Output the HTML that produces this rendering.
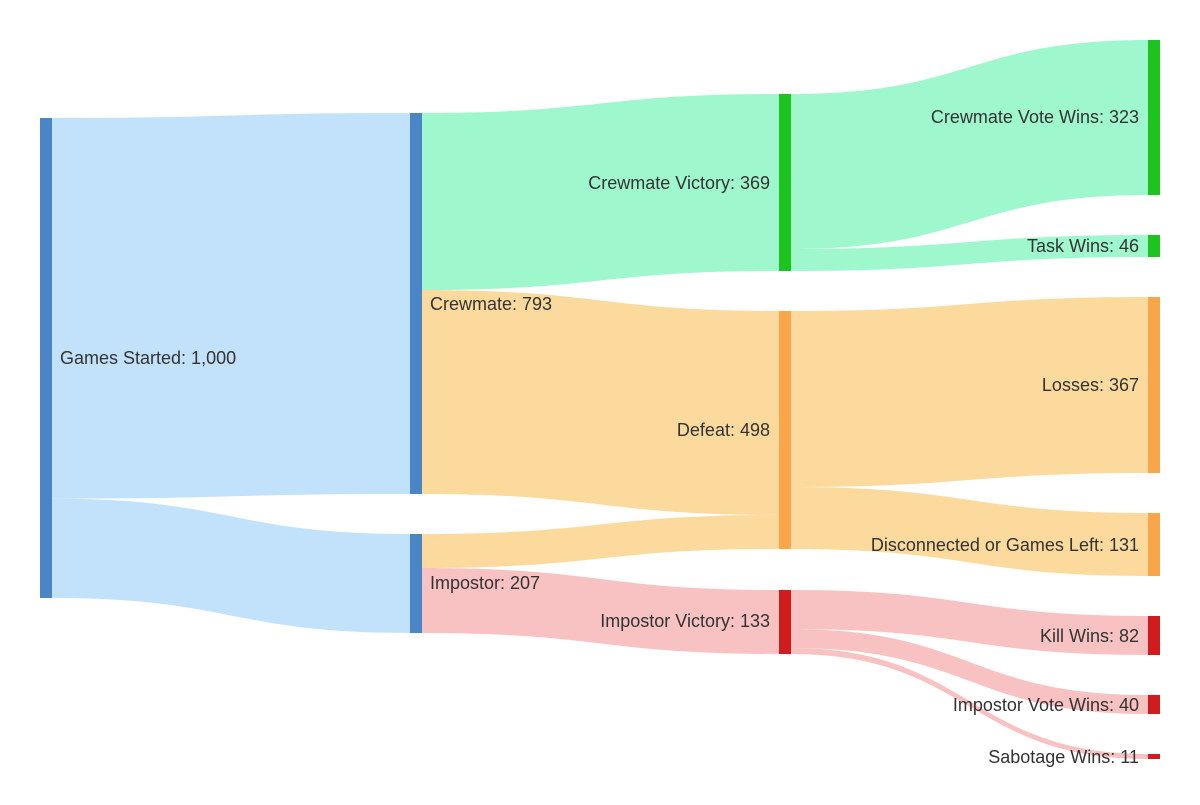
<!DOCTYPE html>
<html><head><style>body{margin:0;background:#fff}svg text{font-family:"Liberation Sans",sans-serif;font-size:18px;fill:#333;dominant-baseline:central}</style></head><body>
<svg width="1200" height="800" xmlns="http://www.w3.org/2000/svg">
<g id="links"></g>
<rect x="40" y="118" width="12" height="480" fill="#4a86c5"/>
<rect x="410" y="113" width="12" height="381" fill="#4a86c5"/>
<rect x="410" y="534" width="12" height="99" fill="#4a86c5"/>
<rect x="779" y="94" width="12" height="177" fill="#1ec41e"/>
<rect x="779" y="311" width="12" height="238" fill="#f9a64a"/>
<rect x="779" y="590" width="12" height="64" fill="#d01c1c"/>
<rect x="1148" y="40" width="12" height="155" fill="#1ec41e"/>
<rect x="1148" y="235" width="12" height="22" fill="#1ec41e"/>
<rect x="1148" y="297" width="12" height="176" fill="#f9a64a"/>
<rect x="1148" y="513" width="12" height="63" fill="#f9a64a"/>
<rect x="1148" y="616" width="12" height="39" fill="#d01c1c"/>
<rect x="1148" y="695" width="12" height="19" fill="#d01c1c"/>
<rect x="1148" y="754" width="12" height="5" fill="#d01c1c"/>
<text x="60" y="358">Games Started: 1,000</text>
<text x="430" y="304">Crewmate: 793</text>
<text x="430" y="583">Impostor: 207</text>
<g text-anchor="end">
<text x="770" y="183">Crewmate Victory: 369</text>
<text x="770" y="430">Defeat: 498</text>
<text x="770" y="621">Impostor Victory: 133</text>
<text x="1139" y="117">Crewmate Vote Wins: 323</text>
<text x="1139" y="246">Task Wins: 46</text>
<text x="1139" y="385">Losses: 367</text>
<text x="1139" y="545">Disconnected or Games Left: 131</text>
<text x="1139" y="636">Kill Wins: 82</text>
<text x="1139" y="705">Impostor Vote Wins: 40</text>
<text x="1139" y="757">Sabotage Wins: 11</text>
</g>
</svg>
<script>
const L=[
[52,410,118,498.6,113,494,'#c2e2fb'],
[52,410,498.6,598,534,633,'#c2e2fb'],
[422,779,113,290,94,271,'#9ff8cd'],
[422,779,290,494,311,515,'#fcda9e'],
[422,779,534,568,515,549,'#fcda9e'],
[422,779,568,633,590,654,'#f9c2c2'],
[791,1148,94,249,40,195,'#9ff8cd'],
[791,1148,249,271,235,257,'#9ff8cd'],
[791,1148,311,487,297,473,'#fcda9e'],
[791,1148,487,549,513,576,'#fcda9e'],
[791,1148,590,629,616,655,'#f9c2c2'],
[791,1148,629,648,695,714,'#f9c2c2'],
[791,1148,648,654,754,759,'#f9c2c2']];
const g=document.getElementById('links');let h='';
for(const[a,b,s0,s1,t0,t1,c]of L){const m=(a+b)/2;
h+=`<path d="M${a} ${s0}C${m} ${s0} ${m} ${t0} ${b} ${t0}L${b} ${t1}C${m} ${t1} ${m} ${s1} ${a} ${s1}Z" fill="${c}"/>`;}
g.innerHTML=h;
</script>
</body></html>
